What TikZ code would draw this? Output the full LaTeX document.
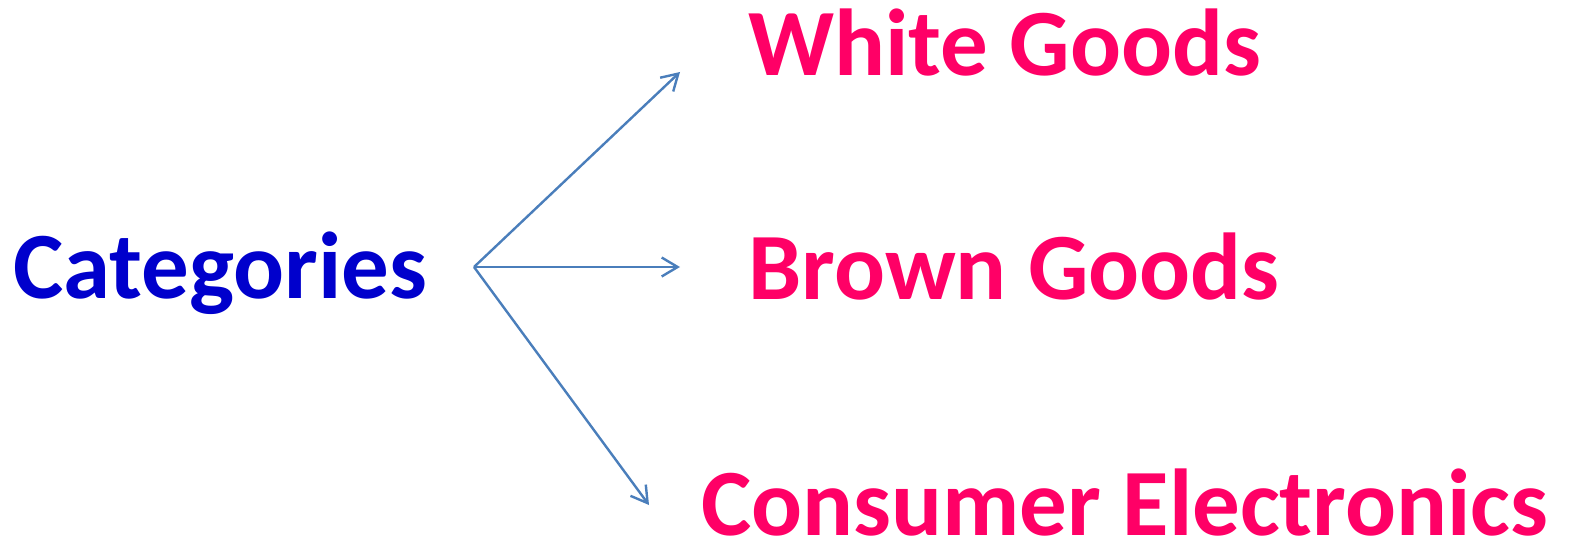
\documentclass[tikz,border=0pt]{standalone}
\usepackage{fontspec}
\setmainfont{Carlito}
\usetikzlibrary{arrows.meta}
\definecolor{catblue}{HTML}{0000CC}
\definecolor{itempink}{HTML}{FF0066}
\definecolor{linkblue}{HTML}{4A7EBB}
\tikzset{
  label text/.style={inner sep=0pt, font=\fontsize{95}{110}\selectfont\bfseries},
  root/.style={label text, text=catblue},
  leaf/.style={label text, text=itempink},
  link/.style={draw=linkblue, line width=2.4pt, -{Straight Barb[length=16pt,width=19pt,line width=2.4pt]}}
}
\begin{document}
\begin{tikzpicture}[x=1pt,y=-1pt]
  \useasboundingbox (0,0) rectangle (1569,543);
  \node[root, anchor=base west] (cat) at (13,298) {Categories};
  \node[leaf, anchor=base west] (white) at (748,75) {White Goods};
  \node[leaf, anchor=base west] (brown) at (748,299) {Brown Goods};
  \node[leaf, anchor=base west] (cons) at (701,535) {Consumer Electronics};
  \coordinate (hub) at (474,267);
  \coordinate (endw) at (680,72);
  \coordinate (endb) at (680,267);
  \coordinate (endc) at (649,505);
  \draw[link] (hub) -- (endw);
  \draw[link] (hub) -- (endb);
  \draw[link] (hub) -- (endc);
\end{tikzpicture}
\end{document}
